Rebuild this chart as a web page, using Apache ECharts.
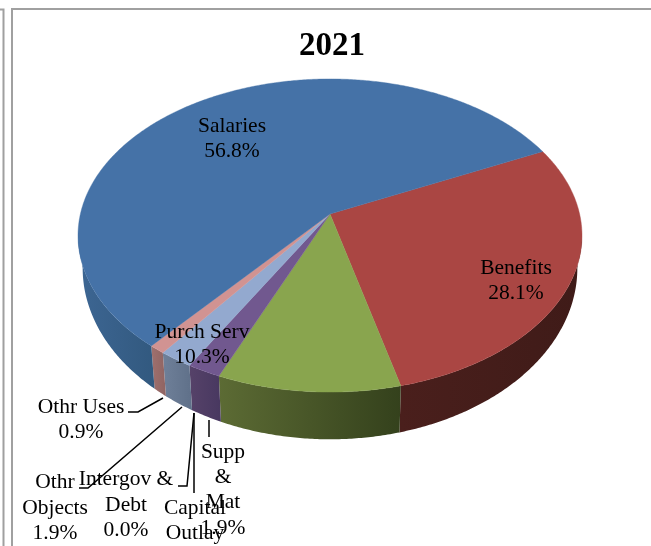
<!DOCTYPE html>
<html>
<head>
<meta charset="utf-8">
<style>html,body{margin:0;padding:0;background:#fff}#chart{width:651px;height:546px}</style>
<script src="https://cdn.jsdelivr.net/npm/echarts@6/dist/echarts.min.js"></script>
</head>
<body>
<div id="chart"></div>
<script>
// Spending shares for 2021, in percent, clockwise from the Salaries/Benefits seam.
var title = '2021';
var categories = ['Benefits', 'Purch Serv', 'Supp & Mat', 'Capital Outlay', 'Intergov & Debt', 'Othr Objects', 'Othr Uses', 'Salaries'];
var shares = [28.1, 10.3, 1.9, 0.0, 0.0, 1.9, 0.9, 56.8];
var topColors = ['#AA4643', '#89A54E', '#71588F', '#4198AF', '#DB843D', '#93A9CF', '#D19392', '#4572A7'];

// Side wall shades, left and right end of each slice's visible wall.
var wallShades = [
  ['#4a1f1c', '#3f1b18'], ['#5c6b34', '#34411c'], ['#564269', '#483860'],
  ['#667790', '#667790'], ['#667790', '#667790'], ['#6f8099', '#5f7089'],
  ['#a0706e', '#8f6462'], ['#3d6693', '#32597f']
];

// Perspective disc used for the top face and the lower rim.
var startAngle = 64.5;
var topFace = { cx: 330, cy: 214, a: 249.6, b: 153.6, k: 0.1375 };
var lowFace = { cx: 330, cy: 244.5, a: 245, b: 168, k: 0.1375 };
var wallFrom = 97.9, wallTo = 262.1;

function project(face, deg) {
  var t = deg * Math.PI / 180, u = Math.sin(t), v = Math.cos(t), d = 1 + face.k * v;
  return [face.cx + face.a * u / d, face.cy - face.b * v / d];
}
function arc(face, from, to) {
  var pts = [], n = Math.max(2, Math.ceil(Math.abs(to - from) / 0.5));
  for (var i = 0; i <= n; i++) pts.push(project(face, from + (to - from) * i / n));
  return pts;
}

var total = shares.reduce(function (s, x) { return s + x; }, 0);
var spans = [], running = startAngle;
shares.forEach(function (s) {
  var sweep = s / total * 360;
  spans.push([running, running + sweep]);
  running += sweep;
});

// Label text and where each one sits.
var serif = '"Liberation Serif", serif';
var labels = [
  { text: 'Salaries\n56.8%', x: 232, y: 139 },
  { text: 'Benefits\n28.1%', x: 516, y: 281 },
  { text: 'Purch Serv\n10.3%', x: 202, y: 345 },
  { text: 'Othr Uses\n0.9%', x: 81, y: 420 },
  { text: 'Supp\n&\nMat\n1.9%', x: 223, y: 490 },
  { text: 'Capital\nOutlay', x: 195, y: 521 },
  { text: 'Intergov &\nDebt\n0.0%', x: 126, y: 505 },
  { text: 'Othr\nObjects\n1.9%', x: 55, y: 508 }
];
var leaders = [
  [[128, 412], [138, 412], [163, 398]],
  [[209, 420], [209, 437]],
  [[194, 413], [194, 493]],
  [[194, 413], [187, 486], [178, 486]],
  [[182, 407], [88, 488], [79, 488]]
];

var chart = echarts.init(document.getElementById('chart'), null, { renderer: 'canvas' });
chart.setOption({
  animation: false,
  backgroundColor: '#fff',
  title: {
    text: title, left: 327, top: 25, textAlign: 'center',
    textStyle: { fontFamily: serif, fontSize: 33, fontWeight: 'bold', color: '#000' }
  },
  graphic: [
    { type: 'polyline', shape: { points: [[0, 9.5], [3.5, 9.5], [3.5, 546]] }, style: { stroke: '#a0a0a0', lineWidth: 2, fill: null } },
    { type: 'polyline', shape: { points: [[12, 546], [12, 9], [651, 9]] }, style: { stroke: '#a0a0a0', lineWidth: 2, fill: null } }
  ],
  series: [
    {
      // Side wall of every slice that faces the viewer.
      type: 'custom', coordinateSystem: 'none', silent: true, z: 1,
      data: shares.map(function (s, i) { return i; }),
      renderItem: function (params) {
        var i = params.dataIndex, from = Math.max(spans[i][0], wallFrom), to = Math.min(spans[i][1], wallTo);
        if (to <= from) return { type: 'group', children: [] };
        var upper = arc(topFace, from, to), lower = arc(lowFace, from, to).reverse();
        var pts = upper.concat(lower);
        var xs = pts.map(function (p) { return p[0]; });
        return {
          type: 'polygon',
          shape: { points: pts },
          style: {
            fill: new echarts.graphic.LinearGradient(
              Math.min.apply(null, xs), 0, Math.max.apply(null, xs), 0,
              [{ offset: 0, color: wallShades[i][0] }, { offset: 1, color: wallShades[i][1] }], true),
            stroke: null
          }
        };
      }
    },
    {
      // Top face slices.
      type: 'custom', coordinateSystem: 'none', silent: true, z: 2,
      data: shares.map(function (s, i) { return i; }),
      renderItem: function (params) {
        var i = params.dataIndex;
        if (shares[i] === 0) return { type: 'group', children: [] };
        var pts = [[topFace.cx, topFace.cy]].concat(arc(topFace, spans[i][0], spans[i][1]));
        return { type: 'polygon', shape: { points: pts }, style: { fill: topColors[i], stroke: topColors[i], lineWidth: 0.4 } };
      }
    },
    {
      // Leader lines from the thin slices.
      type: 'custom', coordinateSystem: 'none', silent: true, z: 3,
      data: leaders.map(function (l, i) { return i; }),
      renderItem: function (params) {
        return { type: 'polyline', shape: { points: leaders[params.dataIndex] }, style: { stroke: '#000', lineWidth: 1.5, fill: null } };
      }
    },
    {
      // Category and percentage labels.
      type: 'custom', coordinateSystem: 'none', silent: true, z: 4,
      data: labels.map(function (l, i) { return i; }),
      renderItem: function (params) {
        var l = labels[params.dataIndex];
        return {
          type: 'text', x: l.x, y: l.y,
          style: { text: l.text, fill: '#000', font: '21.5px ' + serif, textAlign: 'center', textVerticalAlign: 'middle', lineHeight: 25.3 }
        };
      }
    }
  ]
});
</script>
</body>
</html>
